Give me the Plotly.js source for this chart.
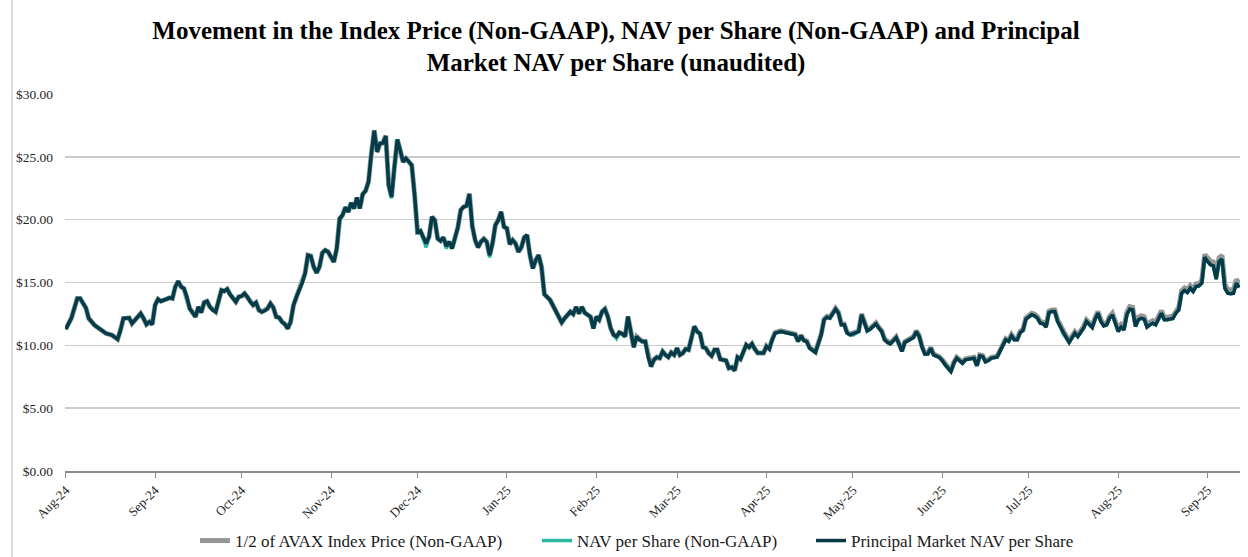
<!DOCTYPE html>
<html>
<head>
<meta charset="utf-8">
<script src="https://cdn.plot.ly/plotly-3.0.1.min.js"></script>
<style>html,body{margin:0;padding:0;background:#fff;}#chart{width:1248px;height:557px;}</style>
</head>
<body>
<div id="chart"></div>
<script>
const dates = [
 '2024-08-01','2024-08-03','2024-08-05','2024-08-06','2024-08-08','2024-08-09','2024-08-11','2024-08-12','2024-08-14','2024-08-15','2024-08-17','2024-08-19','2024-08-20','2024-08-21','2024-08-23','2024-08-24','2024-08-25','2024-08-27','2024-08-28','2024-08-29','2024-08-30','2024-08-31',
 '2024-09-01','2024-09-02','2024-09-03','2024-09-05','2024-09-06','2024-09-07','2024-09-08','2024-09-09','2024-09-10','2024-09-11','2024-09-12','2024-09-13','2024-09-14','2024-09-15','2024-09-16','2024-09-17','2024-09-18','2024-09-19','2024-09-20','2024-09-21','2024-09-22','2024-09-23','2024-09-24','2024-09-25','2024-09-26','2024-09-27','2024-09-28','2024-09-29','2024-09-30',
 '2024-10-01','2024-10-02','2024-10-03','2024-10-04','2024-10-05','2024-10-06','2024-10-07','2024-10-08','2024-10-09','2024-10-10','2024-10-11','2024-10-12','2024-10-13','2024-10-14','2024-10-15','2024-10-16','2024-10-17','2024-10-18','2024-10-19','2024-10-20','2024-10-21','2024-10-22','2024-10-23','2024-10-24','2024-10-25','2024-10-26','2024-10-27','2024-10-28','2024-10-29','2024-10-30','2024-10-31',
 '2024-11-01','2024-11-02','2024-11-03','2024-11-04','2024-11-05','2024-11-06','2024-11-07','2024-11-08','2024-11-09','2024-11-10','2024-11-11','2024-11-12','2024-11-13','2024-11-14','2024-11-15','2024-11-16','2024-11-17','2024-11-18','2024-11-19','2024-11-20','2024-11-21','2024-11-22','2024-11-23','2024-11-24','2024-11-25','2024-11-26','2024-11-27','2024-11-28','2024-11-29','2024-11-30',
 '2024-12-01','2024-12-02','2024-12-04','2024-12-05','2024-12-06','2024-12-07','2024-12-08','2024-12-09','2024-12-10','2024-12-11','2024-12-12','2024-12-13','2024-12-14','2024-12-15','2024-12-16','2024-12-17','2024-12-18','2024-12-19','2024-12-20','2024-12-21','2024-12-22','2024-12-23','2024-12-24','2024-12-25','2024-12-26','2024-12-27','2024-12-28','2024-12-29','2024-12-30','2024-12-31',
 '2025-01-01','2025-01-02','2025-01-03','2025-01-04','2025-01-05','2025-01-06','2025-01-07','2025-01-08','2025-01-09','2025-01-10','2025-01-11','2025-01-12','2025-01-13','2025-01-14','2025-01-16','2025-01-17','2025-01-18','2025-01-19','2025-01-20','2025-01-21','2025-01-22','2025-01-23','2025-01-24','2025-01-25','2025-01-26','2025-01-27','2025-01-28','2025-01-29','2025-01-30','2025-01-31',
 '2025-02-01','2025-02-02','2025-02-03','2025-02-04','2025-02-05','2025-02-06','2025-02-07','2025-02-08','2025-02-09','2025-02-10','2025-02-11','2025-02-12','2025-02-13','2025-02-14','2025-02-15','2025-02-16','2025-02-17','2025-02-18','2025-02-19','2025-02-20','2025-02-21','2025-02-22','2025-02-23','2025-02-24','2025-02-25','2025-02-26','2025-02-27','2025-02-28',
 '2025-03-01','2025-03-02','2025-03-03','2025-03-04','2025-03-05','2025-03-06','2025-03-07','2025-03-08','2025-03-09','2025-03-10','2025-03-11','2025-03-12','2025-03-13','2025-03-14','2025-03-15','2025-03-16','2025-03-17','2025-03-18','2025-03-19','2025-03-20','2025-03-21','2025-03-22','2025-03-23','2025-03-24','2025-03-25','2025-03-26','2025-03-27','2025-03-28','2025-03-29','2025-03-30','2025-03-31',
 '2025-04-01','2025-04-02','2025-04-03','2025-04-04','2025-04-06','2025-04-08','2025-04-09','2025-04-11','2025-04-12','2025-04-13','2025-04-14','2025-04-15','2025-04-16','2025-04-17','2025-04-18','2025-04-20','2025-04-21','2025-04-22','2025-04-23','2025-04-25','2025-04-26','2025-04-27','2025-04-28','2025-04-29','2025-04-30',
 '2025-05-01','2025-05-03','2025-05-04','2025-05-05','2025-05-06','2025-05-07','2025-05-09','2025-05-10','2025-05-11','2025-05-12','2025-05-13','2025-05-14','2025-05-16','2025-05-17','2025-05-18','2025-05-19','2025-05-21','2025-05-22','2025-05-23','2025-05-24','2025-05-25','2025-05-26','2025-05-27','2025-05-28','2025-05-29','2025-05-31',
 '2025-06-01','2025-06-02','2025-06-04','2025-06-05','2025-06-06','2025-06-07','2025-06-08','2025-06-09','2025-06-11','2025-06-12','2025-06-13','2025-06-14','2025-06-15','2025-06-16','2025-06-17','2025-06-18','2025-06-20','2025-06-21','2025-06-22','2025-06-23','2025-06-24','2025-06-25','2025-06-26','2025-06-27','2025-06-28','2025-06-29','2025-06-30',
 '2025-07-02','2025-07-03','2025-07-04','2025-07-05','2025-07-06','2025-07-07','2025-07-08','2025-07-09','2025-07-10','2025-07-11','2025-07-12','2025-07-13','2025-07-15','2025-07-16','2025-07-17','2025-07-18','2025-07-19','2025-07-20','2025-07-21','2025-07-22','2025-07-23','2025-07-24','2025-07-25','2025-07-26','2025-07-27','2025-07-28','2025-07-29','2025-07-30','2025-07-31',
 '2025-08-01','2025-08-02','2025-08-03','2025-08-04','2025-08-05','2025-08-06','2025-08-07','2025-08-08','2025-08-09','2025-08-10','2025-08-11','2025-08-12','2025-08-13','2025-08-14','2025-08-16','2025-08-17','2025-08-18','2025-08-20','2025-08-21','2025-08-22','2025-08-23','2025-08-24','2025-08-25','2025-08-26','2025-08-27','2025-08-28','2025-08-29','2025-08-30','2025-08-31',
 '2025-09-01','2025-09-02','2025-09-03','2025-09-04','2025-09-05','2025-09-06','2025-09-07','2025-09-08','2025-09-09','2025-09-10','2025-09-11','2025-09-12'
];

// Principal Market NAV per Share
const principalNav = [
 11.29,12.19,13.73,13.73,12.98,12.14,11.6,11.45,11.07,10.94,10.81,10.49,11.21,12.14,12.19,11.74,12.0,12.53,12.14,11.66,11.87,11.66,
 13.2,13.67,13.51,13.73,13.78,13.73,14.66,15.1,14.66,14.52,13.86,12.93,12.61,12.27,13.06,12.61,13.41,13.51,13.06,12.8,12.67,13.51,14.39,14.31,14.47,14.05,13.78,13.46,13.86,
 13.91,14.12,13.86,13.46,13.2,13.4,12.8,12.67,12.75,12.93,13.33,13.01,12.27,12.21,11.87,11.68,11.34,11.87,13.2,13.86,14.39,14.97,15.72,17.17,17.1,16.25,15.77,16.25,17.36,17.57,17.44,
 17.0,16.64,17.71,20.09,20.36,20.97,20.62,21.34,20.89,21.76,20.89,22.03,22.3,23.01,25.27,27.07,25.4,26.06,26.1,26.64,22.75,21.82,24.2,26.38,25.53,24.6,24.87,24.6,24.34,21.95,
 19.03,19.1,18.1,18.63,20.23,19.96,18.5,18.32,18.58,17.89,18.24,17.71,18.5,19.38,20.76,21.02,21.1,22.03,19.48,18.37,17.79,18.24,18.47,18.24,17.17,18.1,19.56,19.96,20.62,19.43,
 19.3,18.05,18.37,18.1,17.44,17.79,18.58,18.77,17.17,16.11,16.78,17.17,16.25,14.07,13.6,13.14,12.75,12.27,11.82,12.14,12.4,12.67,12.48,13.06,12.53,13.06,12.59,12.4,12.27,11.34,
 12.27,12.03,12.67,12.88,12.29,11.37,10.84,10.7,11.02,10.92,10.7,12.29,10.97,9.85,10.7,10.44,10.3,10.3,9.06,8.32,8.85,9.06,8.98,9.51,9.24,9.06,9.43,9.24,
 9.77,9.24,9.38,9.7,9.64,10.7,11.5,11.1,10.92,9.85,9.77,9.38,9.16,9.64,9.64,8.9,8.85,8.79,8.18,8.26,8.0,9.06,8.9,9.51,10.04,9.85,10.12,9.7,9.38,9.38,9.38,
 9.91,9.7,10.44,10.97,11.1,11.0,10.97,10.84,10.3,10.76,10.38,10.3,9.77,9.64,9.43,10.84,12.03,12.24,12.16,12.88,12.56,11.63,11.63,10.97,10.84,
 10.92,11.1,12.43,11.76,11.15,11.29,11.71,11.37,11.1,10.44,10.23,10.12,10.62,10.12,9.51,10.23,10.44,10.62,11.1,10.7,9.85,9.3,9.32,9.77,9.24,9.03,
 8.79,8.45,7.92,8.58,8.98,8.79,8.58,8.85,8.98,8.98,8.37,9.16,9.11,8.69,8.79,8.98,9.06,9.51,9.85,10.44,10.31,10.76,10.44,10.44,11.02,11.18,12.08,
 12.43,12.35,12.16,11.76,11.71,11.45,12.61,12.69,12.69,11.9,11.42,11.02,10.23,10.57,10.97,10.7,11.02,11.37,11.9,11.68,11.42,12.08,12.56,11.9,11.55,11.63,12.16,12.43,11.68,
 11.1,11.45,11.23,12.43,12.88,12.83,11.5,12.03,12.15,12.08,11.45,11.63,11.76,11.63,12.56,12.03,12.03,12.14,12.56,12.82,14.15,14.36,14.2,14.55,14.28,14.68,14.73,14.95,17.02,
 16.67,16.41,16.33,15.27,16.67,16.86,14.55,14.15,14.1,14.15,14.95,14.6
];

// NAV per Share (Non-GAAP)
const navPerShare = [
 11.29,12.19,13.73,13.73,12.98,12.14,11.6,11.45,11.07,10.94,10.81,10.49,11.21,12.14,12.19,11.74,12.0,12.53,12.14,11.66,11.87,11.66,
 13.2,13.67,13.51,13.73,13.78,13.73,14.66,15.1,14.66,14.52,13.86,12.93,12.61,12.27,13.06,12.61,13.41,13.51,13.06,12.8,12.67,13.51,14.39,14.31,14.47,14.05,13.78,13.46,13.86,
 13.91,14.12,13.86,13.46,13.2,13.4,12.8,12.67,12.75,12.93,13.33,13.01,12.27,12.21,11.87,11.68,11.34,11.87,13.2,13.86,14.39,14.97,15.72,17.17,17.1,16.25,15.77,16.25,17.36,17.57,17.44,
 17.0,16.64,17.71,19.9,20.36,20.97,20.62,21.34,20.89,21.76,20.89,22.03,22.3,23.01,25.27,27.07,25.4,26.06,26.1,26.64,22.75,21.7,24.2,26.38,25.53,24.6,24.87,24.6,24.34,21.95,
 18.85,19.1,17.8,18.63,20.23,19.96,18.5,18.32,18.58,17.7,18.24,17.71,18.5,19.38,20.76,21.02,21.1,22.03,19.48,18.37,17.79,18.24,18.47,18.24,17.0,18.1,19.56,19.96,20.62,19.43,
 19.3,18.05,18.37,18.1,17.44,17.79,18.58,18.77,17.17,16.11,16.78,17.17,16.25,14.07,13.6,13.14,12.75,12.27,11.82,12.14,12.4,12.67,12.48,13.06,12.53,13.06,12.59,12.4,12.27,11.34,
 12.27,12.03,12.67,12.88,12.29,11.37,10.84,10.55,11.02,10.92,10.7,12.29,10.97,9.85,10.7,10.44,10.3,10.3,9.06,8.32,8.85,9.06,8.98,9.51,9.24,9.06,9.43,9.24,
 9.77,9.24,9.38,9.7,9.64,10.7,11.5,11.1,10.92,9.85,9.77,9.38,9.16,9.64,9.64,8.9,8.85,8.79,8.18,8.26,8.0,9.06,8.9,9.51,10.04,9.85,10.12,9.7,9.38,9.38,9.38,
 9.91,9.7,10.44,10.97,11.1,11.0,10.97,10.84,10.3,10.76,10.38,10.3,9.77,9.64,9.43,10.84,12.03,12.24,12.16,12.88,12.56,11.63,11.63,10.97,10.84,
 10.8,11.1,12.43,11.76,11.15,11.29,11.71,11.37,11.1,10.44,10.23,10.12,10.62,10.12,9.51,10.23,10.44,10.62,11.1,10.7,9.85,9.3,9.32,9.77,9.24,9.03,
 8.79,8.45,7.92,8.58,8.98,8.79,8.58,8.85,8.98,8.98,8.37,9.16,9.11,8.69,8.79,8.98,9.06,9.51,9.85,10.44,10.31,10.76,10.44,10.44,11.02,11.18,12.08,
 12.43,12.35,12.16,11.76,11.71,11.45,12.61,12.69,12.69,11.9,11.42,10.9,10.23,10.57,10.97,10.7,11.02,11.37,11.9,11.68,11.42,12.08,12.56,11.9,11.55,11.63,12.16,12.43,11.68,
 11.1,11.45,11.23,12.43,12.88,12.83,11.5,12.03,12.15,12.08,11.45,11.63,11.76,11.63,12.56,12.03,12.03,12.14,12.56,12.82,14.15,14.36,14.2,14.55,14.28,14.68,14.73,14.95,17.02,
 16.67,16.41,16.33,15.27,16.67,16.86,14.55,14.15,14.1,14.15,14.95,14.6
];

// 1/2 of AVAX Index Price (Non-GAAP)
const halfIndexPrice = [
 11.29,12.19,13.73,13.73,12.98,12.14,11.6,11.45,11.07,10.94,10.81,10.49,11.21,12.14,12.19,11.74,12.0,12.53,12.14,11.66,11.87,11.66,
 13.2,13.67,13.51,13.73,13.78,13.73,14.66,15.1,14.66,14.52,13.86,12.93,12.61,12.27,13.06,12.61,13.41,13.51,13.06,12.8,12.67,13.51,14.39,14.31,14.47,14.05,13.78,13.46,13.86,
 13.91,14.12,13.86,13.46,13.2,13.4,12.8,12.67,12.75,12.93,13.33,13.01,12.27,12.21,11.87,11.68,11.34,11.87,13.2,13.86,14.39,14.97,15.72,17.17,17.1,16.25,15.77,16.25,17.36,17.57,17.44,
 17.0,16.64,17.71,20.09,20.36,20.97,20.62,21.34,20.89,21.76,20.89,22.03,22.3,23.01,25.27,27.12,25.4,26.06,26.1,26.68,22.75,21.82,24.2,26.38,25.53,24.6,24.87,24.6,24.34,21.95,
 19.03,19.1,18.1,18.63,20.23,19.96,18.5,18.32,18.58,17.89,18.24,17.71,18.5,19.38,20.76,21.02,21.1,22.08,19.48,18.37,17.79,18.24,18.47,18.24,17.17,18.1,19.56,19.96,20.62,19.43,
 19.3,18.05,18.37,18.1,17.44,17.79,18.58,18.77,17.17,16.11,16.78,17.17,16.25,14.07,13.6,13.14,12.75,12.27,11.82,12.14,12.4,12.67,12.48,13.06,12.53,13.06,12.59,12.4,12.27,11.34,
 12.27,12.03,12.67,12.88,12.29,11.37,10.84,10.7,11.02,10.92,10.7,12.29,10.97,9.85,10.7,10.44,10.3,10.3,9.06,8.32,8.85,9.06,8.98,9.51,9.24,9.06,9.43,9.24,
 9.77,9.24,9.38,9.7,9.64,10.7,11.5,11.1,10.92,9.85,9.77,9.38,9.16,9.64,9.64,8.9,8.85,8.79,8.18,8.26,8.0,9.06,8.9,9.51,10.04,9.85,10.12,9.7,9.38,9.38,9.38,
 9.95,9.74,10.48,11.02,11.15,11.05,11.02,10.89,10.35,10.81,10.43,10.35,9.82,9.69,9.48,10.89,12.08,12.3,12.22,12.94,12.62,11.69,11.69,11.03,10.9,
 10.98,11.16,12.5,11.82,11.21,11.35,11.78,11.43,11.16,10.5,10.29,10.18,10.68,10.18,9.57,10.29,10.5,10.68,11.16,10.76,9.91,9.36,9.38,9.83,9.3,9.09,
 8.85,8.51,7.98,8.65,9.05,8.86,8.65,8.92,9.05,9.05,8.44,9.23,9.18,8.76,8.86,9.05,9.13,9.59,9.93,10.53,10.4,10.85,10.53,10.53,11.11,11.27,12.18,
 12.55,12.47,12.28,11.88,11.83,11.57,12.73,12.81,12.81,12.02,11.54,11.14,10.35,10.69,11.09,10.82,11.14,11.49,12.02,11.8,11.54,12.2,12.68,12.02,11.67,11.75,12.28,12.55,11.8,
 11.3,11.65,11.43,12.63,13.08,13.03,11.7,12.23,12.35,12.28,11.65,11.83,11.96,11.83,12.76,12.23,12.23,12.34,12.76,13.02,14.35,14.56,14.4,14.75,14.48,14.88,14.93,15.15,17.22,
 16.97,16.71,16.63,15.57,16.97,17.16,14.85,14.45,14.4,14.45,15.25,14.9
];

const seriesNames = ['1/2 of AVAX Index Price (Non-GAAP)', 'NAV per Share (Non-GAAP)', 'Principal Market NAV per Share'];
const yTickVals = [0, 5, 10, 15, 20, 25, 30];
const yTickText = ['$0.00', '$5.00', '$10.00', '$15.00', '$20.00', '$25.00', '$30.00'];
const titleText = 'Movement in the Index Price (Non-GAAP), NAV per Share (Non-GAAP) and Principal<br>Market NAV per Share (unaudited)';

const SERIF = '"Liberation Serif", "Times New Roman", serif';

const traces = [
  {x: dates, y: halfIndexPrice, name: seriesNames[0], type: 'scatter', mode: 'lines',
   line: {color: '#979797', width: 5}, legend: 'legend'},
  {x: dates, y: navPerShare, name: seriesNames[1], type: 'scatter', mode: 'lines',
   line: {color: '#2db6a1', width: 3.5}, legend: 'legend2'},
  {x: dates, y: principalNav, name: seriesNames[2], type: 'scatter', mode: 'lines',
   line: {color: '#063a48', width: 3.5}, legend: 'legend3'}
];

const legendBase = {orientation: 'h', yref: 'container', yanchor: 'middle', y: 1 - 541/557,
  xref: 'container', xanchor: 'left',
  font: {family: SERIF, size: 17, color: '#1a1a1a'}, bgcolor: 'rgba(0,0,0,0)', itemwidth: 30};

const layout = {
  width: 1248, height: 557,
  margin: {l: 65, r: 8, t: 94, b: 86},
  paper_bgcolor: '#ffffff', plot_bgcolor: '#ffffff',
  title: {text: titleText, font: {family: SERIF, size: 25, color: '#000000', weight: 'bold'},
    x: 616/1248, xref: 'container', xanchor: 'center', y: 0.93, yref: 'container', yanchor: 'top'},
  xaxis: {type: 'date', range: ['2024-07-31 18:00', '2025-09-12 06:00'],
    tick0: '2024-08-01', dtick: 'M1', tickformat: '%b-%y', tickangle: -45,
    ticks: 'outside', ticklen: 5, tickcolor: '#8a8a8a', tickwidth: 1,
    showgrid: false, showline: true, linecolor: '#8a8a8a', linewidth: 1.5,
    tickfont: {family: SERIF, size: 13, color: '#262626'}, zeroline: false, fixedrange: true, automargin: false},
  yaxis: {range: [0, 30], tickvals: yTickVals, ticktext: yTickText,
    showgrid: true, gridcolor: '#cbcbcb', gridwidth: 1.5, zeroline: false, showline: false,
    ticks: '', ticklabelstandoff: 11, tickfont: {family: SERIF, size: 13.5, color: '#262626'}, fixedrange: true, automargin: false},
  showlegend: true,
  legend: Object.assign({}, legendBase, {x: 195/1248}),
  legend2: Object.assign({}, legendBase, {x: 537/1248}),
  legend3: Object.assign({}, legendBase, {x: 811/1248}),
  shapes: [{type: 'line', xref: 'paper', yref: 'paper', x0: (12-65)/1175, x1: (12-65)/1175,
    y0: (471-557)/377, y1: 471/377, line: {color: '#bdbdbd', width: 1}}]
};

Plotly.newPlot('chart', traces, layout, {staticPlot: true, displayModeBar: false});
</script>
</body>
</html>
